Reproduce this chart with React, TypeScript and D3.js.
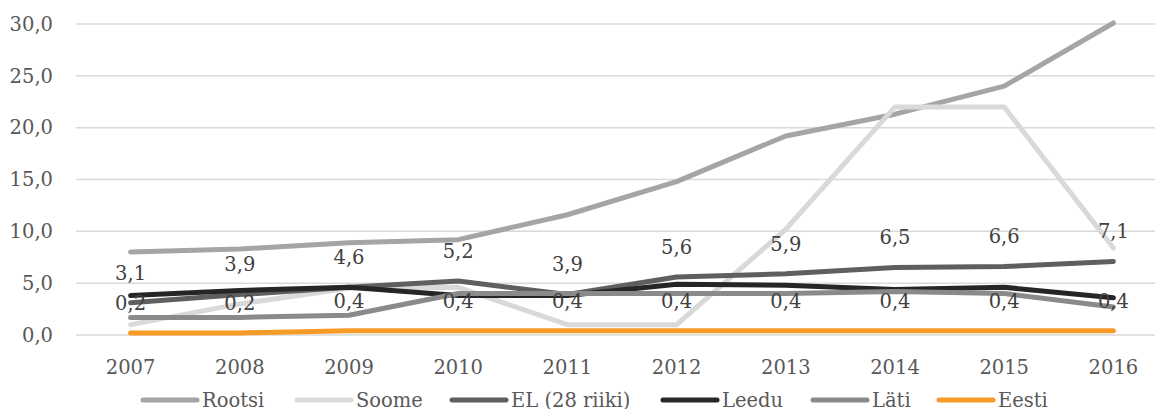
import React from "react";
import * as d3 from "d3";

const years = ["2007","2008","2009","2010","2011","2012","2013","2014","2015","2016"];
const rootsi = [8.0, 8.3, 8.9, 9.2, 11.6, 14.8, 19.2, 21.3, 24.0, 30.1];
const soome = [1.0, 3.0, 4.5, 4.6, 1.0, 1.0, 10.2, 22.0, 22.0, 8.4];
const el28 = [3.1, 3.9, 4.6, 5.2, 3.9, 5.6, 5.9, 6.5, 6.6, 7.1];
const leedu = [3.8, 4.3, 4.6, 3.8, 3.8, 4.9, 4.8, 4.4, 4.6, 3.6];
const lati = [1.7, 1.7, 1.9, 4.0, 4.0, 4.0, 4.0, 4.2, 4.0, 2.7];
const eesti = [0.2, 0.2, 0.4, 0.4, 0.4, 0.4, 0.4, 0.4, 0.4, 0.4];
const yTicks = [0, 5, 10, 15, 20, 25, 30];

const series = [
  { name: "Rootsi", values: rootsi, color: "#a5a5a5", labels: false },
  { name: "Soome", values: soome, color: "#d9d9d9", labels: false },
  { name: "EL (28 riiki)", values: el28, color: "#5f5f5f", labels: true },
  { name: "Leedu", values: leedu, color: "#262626", labels: false },
  { name: "Läti", values: lati, color: "#8a8a8a", labels: false },
  { name: "Eesti", values: eesti, color: "#f79a27", labels: true },
];

const legendX = [143, 297, 452, 663, 813, 939];

export default function App() {
  const W = 1155, H = 409;
  const x = d3.scaleBand<string>().domain(years).range([76, 1168]).padding(0);
  const cx = (y: string) => (x(y) as number) + x.bandwidth() / 2;
  const y = d3.scaleLinear().domain([0, 30]).range([335, 24]);
  const fmt = (v: number) => d3.format(".1f")(v).replace(".", ",");
  const font = "DejaVu Serif";
  const line = (vals: number[]) =>
    d3.line<number>().x((_, i) => cx(years[i])).y((v) => y(v))(vals) as string;

  return (
    <svg width={W} height={H} style={{ position: "absolute", left: 0, top: 0 }}>
      <rect width={W} height={H} fill="#fff" />
      {yTicks.map((t) => (
        <g key={t}>
          <line x1={76} x2={W} y1={y(t)} y2={y(t)} stroke="#d9d9d9" strokeWidth={1.5} />
          <text x={53} y={y(t)} dy="0.35em" textAnchor="end" fontFamily={font} fontSize={19.5} fill="#595959">
            {fmt(t)}
          </text>
        </g>
      ))}
      {years.map((yr) => (
        <text key={yr} x={cx(yr)} y={367} dy="0.35em" textAnchor="middle" fontFamily={font} fontSize={19.5} fill="#595959">
          {yr}
        </text>
      ))}
      {series.map((s) => (
        <path key={s.name} d={line(s.values)} fill="none" stroke={s.color} strokeWidth={5} strokeLinecap="round" strokeLinejoin="round" />
      ))}
      {series.filter((s) => s.labels).map((s) =>
        s.values.map((v, i) => (
          <text key={s.name + i} x={cx(years[i])} y={y(v) - 30} dy="0.35em" textAnchor="middle" fontFamily={font} fontSize={19.5} fill="#404040">
            {fmt(v)}
          </text>
        ))
      )}
      {series.map((s, i) => (
        <g key={"lg" + s.name}>
          <line x1={legendX[i]} x2={legendX[i] + 54} y1={400} y2={400} stroke={s.color} strokeWidth={5} strokeLinecap="round" />
          <text x={legendX[i] + 59} y={400} dy="0.35em" fontFamily={font} fontSize={19.5} fill="#595959">
            {s.name}
          </text>
        </g>
      ))}
    </svg>
  );
}
